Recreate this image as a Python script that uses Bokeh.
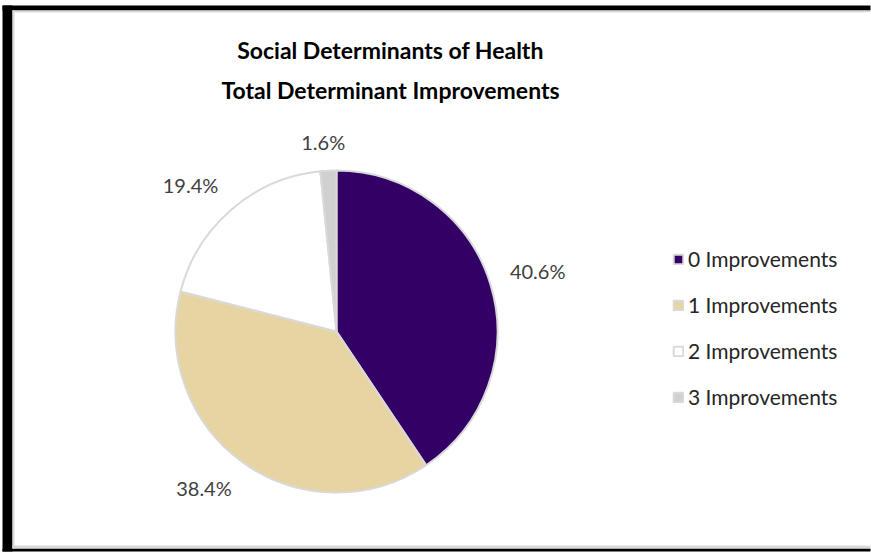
import numpy as np
from bokeh.plotting import figure
from bokeh.models import Range1d, ColumnDataSource, BoxAnnotation
from bokeh.core.properties import value
from bokeh.embed import file_html
from bokeh.resources import INLINE

# ---- data ----
categories = ["0 Improvements", "1 Improvements", "2 Improvements", "3 Improvements"]
percentages = [40.6, 38.4, 19.4, 1.6]
colors = ["#330066", "#E6D4A2", "#FFFFFF", "#D0D0D0"]
title_lines = ["Social Determinants of Health", "Total Determinant Improvements"]

# ---- layout (pixels) ----
W, H = 871, 552
CX, CY, R = 336, 331, 161


def dx(px):
    return (px - CX) / R


def dy(py):
    return (CY - py) / R


p = figure(width=W, height=H, output_backend="svg", toolbar_location=None,
           x_range=Range1d(dx(0), dx(W)), y_range=Range1d(dy(H), dy(0)),
           x_axis_location=None, y_axis_location=None,
           min_border=0, min_border_left=0, min_border_right=0,
           min_border_top=0, min_border_bottom=0,
           border_fill_color="white", background_fill_color="white",
           outline_line_color=None)
p.grid.visible = False

# chart frame: black outer edge (left, top, bottom) and light grey inner line
frame_boxes = [
    ((2, W - 1, 5, 10), "#000000"),
    ((2, 12, 5, H - 1), "#000000"),
    ((2, W - 1, 548, H - 1), "#000000"),
    ((12, W - 1, 10, 12), "#D9D9D9"),
    ((12, 14, 10, 548), "#D9D9D9"),
    ((12, W - 1, 545, 548), "#D9D9D9"),
    ((W - 8, W, 12, 545), "#FFFFFF"),
]
for (l, r, t, b), col in frame_boxes:
    p.add_layout(BoxAnnotation(left=dx(l), right=dx(r), top=dy(t), bottom=dy(b),
                               fill_color=col, fill_alpha=1, line_color=None))

frac = np.array(percentages) / np.sum(percentages)
cum_end = np.cumsum(frac)
cum_start = cum_end - frac
start = np.pi / 2 - cum_end * 2 * np.pi
end = np.pi / 2 - cum_start * 2 * np.pi
mid = np.pi / 2 - (cum_start + frac / 2) * 2 * np.pi

src = ColumnDataSource(dict(category=categories, start=start, end=end, color=colors))
p.wedge(x=0, y=0, radius=1, start_angle="start", end_angle="end",
        fill_color="color", line_color="#D9D9D9", line_width=2,
        source=src, legend_field="category")

# data labels outside the slices (label box corner anchored near slice edge)
gap, hw, hh, k = 20, 28, 9, 3
c, s = np.cos(mid), np.sin(mid)
lx = (1 + gap / R) * c + hw / R * np.clip(c * k, -1, 1)
ly = (1 + gap / R) * s + hh / R * np.clip(s * k, -1, 1)
labels = [f"{v:.1f}%" for v in percentages]
p.text(x=lx, y=ly, text=labels,
       text_align="center", text_baseline="middle",
       text_font=value("Lato"), text_font_size="20px", text_color="#404040")

# title
p.text(x=[dx(390)] * 2, y=[dy(49), dy(89)], text=title_lines,
       text_align="center", text_baseline="middle",
       text_font=value("Lato"), text_font_style="bold", text_font_size="23px",
       text_color="#000000")

lg = p.legend[0]
lg.location = (672, 143)
lg.glyph_width = 12
lg.glyph_height = 12
lg.label_height = 12
lg.spacing = 21
lg.label_standoff = 4
lg.padding = 0
lg.margin = 0
lg.border_line_color = None
lg.background_fill_alpha = 0
lg.label_text_font = "Lato"
lg.label_text_font_size = "21px"
lg.label_text_color = "#262626"

open("out.html", "w").write(file_html(p, INLINE))
